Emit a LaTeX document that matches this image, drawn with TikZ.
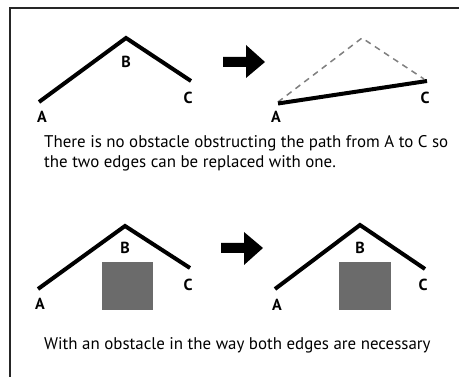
\documentclass[tikz,border=0pt]{standalone}
\usepackage{fontspec}
\setmainfont{PT Sans}
\begin{document}
\begin{tikzpicture}[x=1pt,y=-1pt,
  edge/.style={line width=4pt, line join=miter, line cap=butt},
  ghost/.style={draw=black!50, line width=1.5pt, dash pattern=on 6pt off 5pt},
  lbl/.style={font=\fontsize{16}{18}\selectfont\bfseries, inner sep=0pt},
  obst/.style={fill=black!58, draw=none},
  caption/.style={font=\fontsize{16.9}{20}\selectfont, inner sep=0pt, anchor=west, align=left},
  bigarrow/.style={fill=black, draw=none}]
\useasboundingbox (0,0) rectangle (459,377);
\fill[white] (0,0) rectangle (459,377);
% frame
\draw[line width=2pt, draw=black!85] (10,377) -- (10,8.5) -- (459,8.5);

% ---------- top left ----------
\coordinate (a1) at (39,102);
\coordinate (b1) at (126,38);
\coordinate (c1) at (191,81);
\draw[edge] (a1) -- (b1) -- (c1);
\node[lbl] (la1) at (42,117) {A};
\node[lbl] (lb1) at (126,62) {B};
\node[lbl] (lc1) at (188,98) {C};

% arrow 1
\fill[bigarrow] (223,57) -- (246,57) -- (246,45) -- (265,62) -- (246,78) -- (246,67) -- (223,67) -- cycle;

% ---------- top right ----------
\coordinate (a2) at (278,102);
\coordinate (b2) at (362,38);
\coordinate (c2) at (424,79);
\draw[ghost] (a2) -- (b2) -- (c2);
\draw[edge] (278,103.5) -- (427,81);
\node[lbl] (la2) at (276,117) {A};
\node[lbl] (lc2) at (425,98) {C};

\node[caption] (t1) at (44,153) {There is no obstacle obstructing the path from A to C so\\the two edges can be replaced with one.};

% ---------- bottom left ----------
\node[obst, minimum width=51pt, minimum height=48pt, inner sep=0pt] (o1) at (127.5,286) {};
\coordinate (a3) at (38,289);
\coordinate (b3) at (125,226);
\coordinate (c3) at (190,268);
\draw[edge] (a3) -- (b3) -- (c3);
\node[lbl] (la3) at (40,304) {A};
\node[lbl] (lb3) at (125,248) {B};
\node[lbl] (lc3) at (188,285) {C};

% arrow 2
\fill[bigarrow] (221,243) -- (244,243) -- (244,232) -- (263,248) -- (244,265) -- (244,253) -- (221,253) -- cycle;

% ---------- bottom right ----------
\node[obst, minimum width=52pt, minimum height=48pt, inner sep=0pt] (o2) at (365,286) {};
\coordinate (a4) at (275,289);
\coordinate (b4) at (360,225);
\coordinate (c4) at (425,269);
\draw[edge] (a4) -- (b4) -- (c4);
\node[lbl] (la4) at (277,305) {A};
\node[lbl] (lb4) at (360,248) {B};
\node[lbl] (lc4) at (423,285) {C};

\node[caption] (t2) at (44,345) {With an obstacle in the way both edges are necessary};
\end{tikzpicture}
\end{document}
